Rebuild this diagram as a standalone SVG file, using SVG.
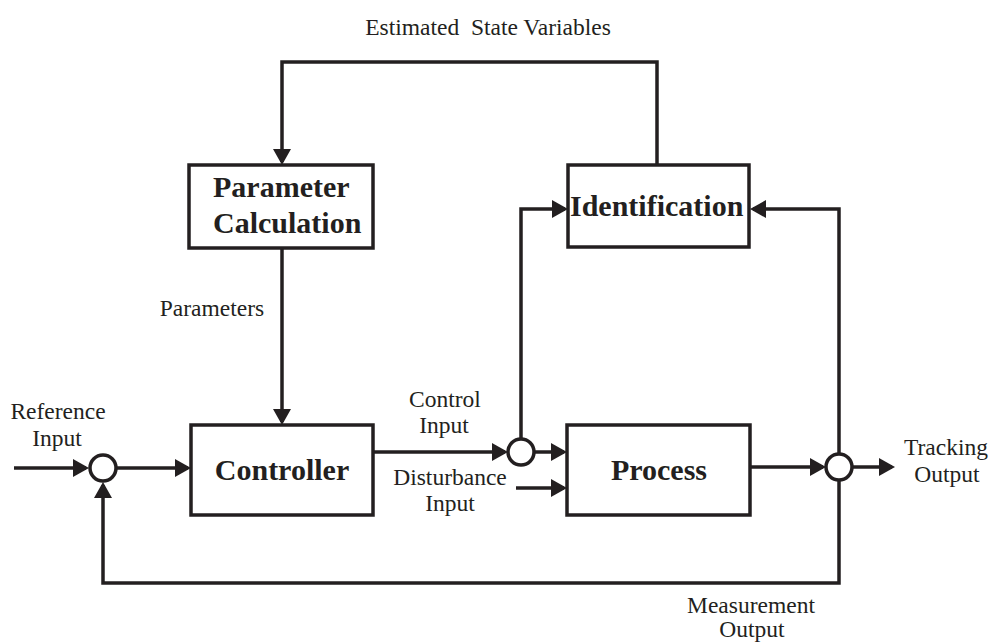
<svg xmlns="http://www.w3.org/2000/svg" width="992" height="643" viewBox="0 0 992 643">
<style>
  .box { fill: #fff; stroke: #231f20; stroke-width: 3.5; }
  .sum { fill: #fff; stroke: #231f20; stroke-width: 3.5; }
  .wire { fill: none; stroke: #231f20; stroke-width: 3.5; marker-end: url(#arr); }
  .lbl { font-family: "Liberation Serif", "Times New Roman", serif; font-size: 23.5px; fill: #231f20; text-anchor: middle; white-space: pre; }
  .big { font-family: "Liberation Serif", "Times New Roman", serif; font-size: 30px; font-weight: bold; fill: #231f20; }
</style>
<defs>
  <marker id="arr" viewBox="0 0 16 18" markerWidth="16" markerHeight="18" refX="13" refY="9" orient="auto" markerUnits="userSpaceOnUse">
    <path d="M0,0 L16,9 L0,18 Z" fill="#231f20"/>
  </marker>
</defs>
<rect width="992" height="643" fill="#fff"/>

<g id="connectors">
  <path class="wire" d="M14,468 H86"/>
  <path class="wire" d="M116,468 H188"/>
  <path class="wire" d="M839,480 V583 H103 V485"/>
  <path class="wire" d="M282,248 V422"/>
  <path class="wire" d="M657,165 V62 H282 V162"/>
  <path class="wire" d="M373,452 H505"/>
  <path class="wire" d="M534,452 H564"/>
  <path class="wire" d="M521,439 V209 H565"/>
  <path class="wire" d="M516,488 H564"/>
  <path class="wire" d="M750,467 H823"/>
  <path class="wire" d="M852,467 H892"/>
  <path class="wire" d="M839,454 V209 H753"/>
</g>

<g id="param-calc">
  <rect class="box" x="189" y="165" width="184" height="83"/>
  <text class="big" x="213" y="197">Parameter</text>
  <text class="big" x="213" y="233">Calculation</text>
</g>

<g id="identification">
  <rect class="box" x="568" y="165" width="181" height="82"/>
  <text class="big" x="570" y="216">Identification</text>
</g>

<g id="controller">
  <rect class="box" x="191" y="425" width="182" height="90"/>
  <text class="big" x="282" y="480" text-anchor="middle">Controller</text>
</g>

<g id="process">
  <rect class="box" x="567" y="425" width="183" height="90"/>
  <text class="big" x="659" y="480" text-anchor="middle">Process</text>
</g>

<g id="sum1"><circle class="sum" cx="103" cy="468" r="13"/></g>
<g id="sum2"><circle class="sum" cx="521" cy="452" r="13"/></g>
<g id="sum3"><circle class="sum" cx="839" cy="467" r="13"/></g>

<g id="labels">
  <text class="lbl" x="488" y="35">Estimated  State Variables</text>
  <text class="lbl" x="212" y="316">Parameters</text>
  <text class="lbl" x="58" y="419">Reference</text>
  <text class="lbl" x="57" y="446">Input</text>
  <text class="lbl" x="445" y="407">Control</text>
  <text class="lbl" x="444" y="433">Input</text>
  <text class="lbl" x="450" y="485">Disturbance</text>
  <text class="lbl" x="450" y="511">Input</text>
  <text class="lbl" x="946" y="455">Tracking</text>
  <text class="lbl" x="947" y="482">Output</text>
  <text class="lbl" x="751" y="613">Measurement</text>
  <text class="lbl" x="752" y="637">Output</text>
</g>
</svg>
